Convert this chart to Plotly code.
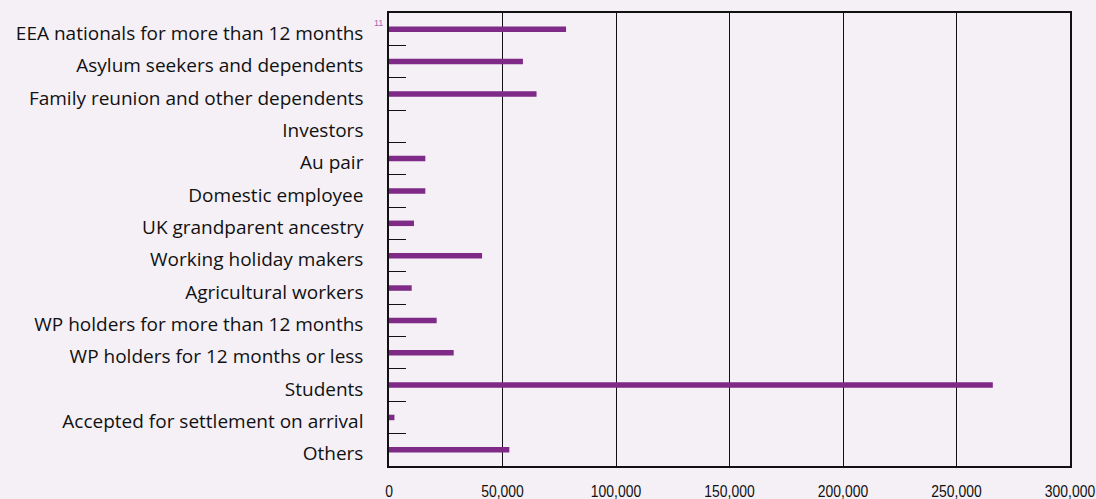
import plotly.graph_objects as go

categories = [
    "EEA nationals for more than 12 months",
    "Asylum seekers and dependents",
    "Family reunion and other dependents",
    "Investors",
    "Au pair",
    "Domestic employee",
    "UK grandparent ancestry",
    "Working holiday makers",
    "Agricultural workers",
    "WP holders for more than 12 months",
    "WP holders for 12 months or less",
    "Students",
    "Accepted for settlement on arrival",
    "Others",
]
values = [78000, 59000, 65000, 0, 16000, 16000, 11000, 41000, 10000, 21000, 28500, 266000, 2400, 53000]
x_ticks = [0, 50000, 100000, 150000, 200000, 250000, 300000]
x_tick_labels = ["0", "50,000", "100,000", "150,000", "200,000", "250,000", "300,000"]

BG = "#f4f0f6"
BAR = "#7e2a86"

fig = go.Figure(go.Bar(
    x=values, y=categories, orientation="h",
    marker=dict(color=BAR, line=dict(width=0)),
    width=0.17,
))

fig.update_layout(
    width=1096, height=499,
    paper_bgcolor=BG, plot_bgcolor=BG,
    margin=dict(l=389, r=26, t=13, b=33),
    showlegend=False,
    font=dict(family="Open Sans, Liberation Sans, sans-serif", color="#111111"),
    xaxis=dict(
        range=[0, 300000], tickvals=x_ticks, ticktext=x_tick_labels,
        showgrid=True, gridcolor="#111111", gridwidth=1,
        showline=True, linecolor="#111111", linewidth=1.5, mirror=True,
        zeroline=False, ticks="",
        tickfont=dict(family="Liberation Sans, Arial, sans-serif", size=17, color="#111111"),
        ticklabelstandoff=9,
        ticklabeloverflow="allow",
        automargin=False,
        fixedrange=True,
    ),
    yaxis=dict(
        type="category", categoryorder="array", categoryarray=categories,
        autorange="reversed",
        showline=True, linecolor="#111111", linewidth=1.5, mirror=True,
        showgrid=False, zeroline=False,
        ticks="inside", tickson="boundaries", ticklen=17, tickwidth=1.2, tickcolor="#111111",
        tickfont=dict(family="Open Sans, sans-serif", size=19, color="#111111"),
        ticklabelstandoff=20,
        automargin=False,
        fixedrange=True,
    ),
    annotations=[dict(
        text="11", xref="paper", yref="paper", x=-0.006, y=0.979,
        xanchor="right", yanchor="middle", showarrow=False,
        font=dict(family="Liberation Sans, sans-serif", size=9, color="#a765b5"),
    )],
)

post = """
document.documentElement.style.margin='0';
document.body.style.margin='0';
document.body.style.overflow='hidden';
document.body.style.background='%s';
function adjustTicks(){
  document.querySelectorAll('.xtick text').forEach(function(t){
    if (t.getAttribute('data-adj')) return;
    var b = t.getBBox();
    var cx = b.x + b.width/2;
    var tr = t.getAttribute('transform') || '';
    t.setAttribute('transform', tr + ' translate(' + cx + ',0) scale(0.82,1) translate(' + (-cx) + ',0)');
    t.setAttribute('data-adj', '1');
  });
  document.querySelectorAll('.ytick text').forEach(function(t){
    if (t.getAttribute('data-adj')) return;
    var tr = t.getAttribute('transform') || '';
    t.setAttribute('transform', tr + ' translate(0,4)');
    t.setAttribute('data-adj', '1');
  });
}
adjustTicks();
setTimeout(adjustTicks, 0);
setTimeout(adjustTicks, 200);
""" % BG
fig.write_html("out.html", post_script=post, config={"displayModeBar": False})
